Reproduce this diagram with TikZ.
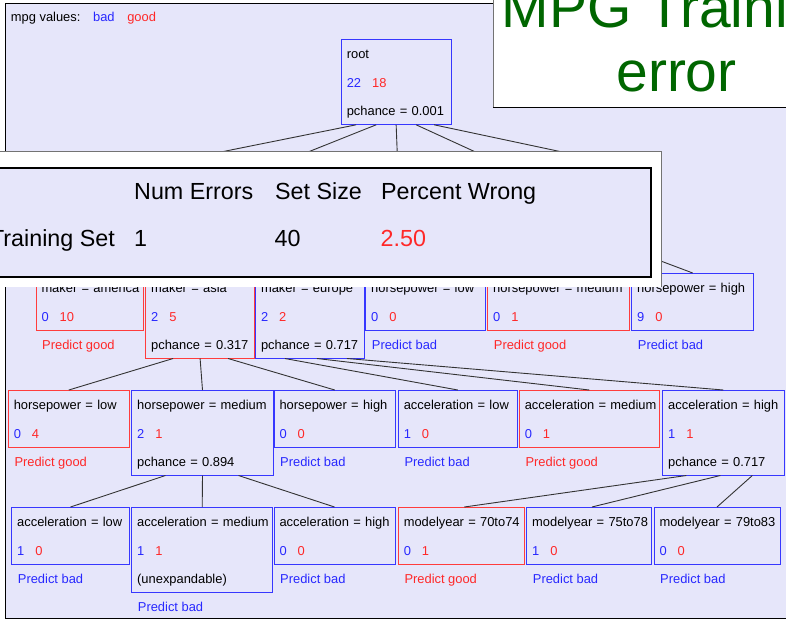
\documentclass[tikz,border=0pt]{standalone}
\usepackage{fontspec}
\setmainfont{Liberation Sans}
\definecolor{lav}{RGB}{230,230,250}
\definecolor{tblue}{RGB}{40,40,255}
\definecolor{tred}{RGB}{255,40,40}
\definecolor{bblue}{RGB}{55,55,255}
\definecolor{bred}{RGB}{255,60,60}
\definecolor{tgreen}{RGB}{0,102,0}
\newcommand{\treefont}{\fontsize{12.9}{28.5}\selectfont}
\newcommand{\tabfont}{\fontsize{23.3}{28}\selectfont}
\newcommand{\ttlfont}{\fontsize{57}{64}\selectfont}
\newcommand{\twol}[2]{\vrule width0pt height19.5pt depth3pt\mbox{#1}\\\vrule width0pt height10pt depth9.5pt\mbox{#2}}
\newcommand{\threel}[3]{\vrule width0pt height19.5pt depth3pt\mbox{#1}\\\mbox{#2}\\\vrule width0pt height10pt depth9pt\mbox{#3}}
\newcommand{\cnts}[2]{\textcolor{tblue}{#1}\hspace{11pt}\textcolor{tred}{#2}}
\tikzset{
  tbox/.style={draw=#1, line width=1pt, anchor=north west, inner xsep=5.5pt, inner ysep=0pt, outer sep=0pt, align=left, font=\treefont},
  conn/.style={draw=black!80, line width=0.9pt},
  pred/.style={anchor=base west, font=\treefont, text=#1, inner sep=0pt},
  tabtxt/.style={anchor=base west, font=\tabfont, inner sep=0pt},
}
\begin{document}
\begin{tikzpicture}[x=1pt,y=-1pt]
\useasboundingbox (0,0) rectangle (786,625);
\clip (0,0) rectangle (786,625);
% panel
\filldraw[fill=lav, draw=black, line width=1pt] (5,3) rectangle (800,618);
\node[anchor=base west, font=\treefont, inner sep=0pt] (legend) at (10.7,21) {mpg values:\hspace{12.7pt}\textcolor{tblue}{bad}\hspace{12.6pt}\textcolor{tred}{good}};
% hidden waypoints (behind the table)
\coordinate (h1) at (181,160);
\coordinate (h2) at (288,160);
\coordinate (h3) at (397.5,160);
\coordinate (h4) at (493,160);
\coordinate (h5) at (600,160);
\coordinate (h8) at (605,240);
% root
\node[tbox=bblue, text width=98.7pt] (root) at (341.3,39.3) {\threel{root}{\cnts{22}{18}}{pchance = 0.001}};
% row 2
\node[tbox=bred, text width=96.3pt] (america) at (36,273) {\twol{maker = america}{\cnts{0}{10}}};
\node[tbox=bred, text width=97.8pt] (asia) at (145.7,273) {\threel{maker = asia}{\cnts{2}{5}}{pchance = 0.317}};
\node[tbox=bblue, text width=97.8pt] (europe) at (255.5,273) {\threel{maker = europe}{\cnts{2}{2}}{pchance = 0.717}};
\node[tbox=bblue, text width=109pt] (hplowA) at (365.7,273) {\twol{horsepower = low}{\cnts{0}{0}}};
\node[tbox=bred, text width=130.3pt] (hpmedA) at (487.7,273) {\twol{horsepower = medium}{\cnts{0}{1}}};
\node[tbox=bblue, text width=111pt] (hphighA) at (631.7,273) {\twol{horsepower = high}{\cnts{9}{0}}};
\node[pred=tred] (pAmerica) at ([xshift=6pt,yshift=-18.5pt]america.south west) {Predict good};
\node[pred=tblue] (pHplowA) at ([xshift=6pt,yshift=-18.5pt]hplowA.south west) {Predict bad};
\node[pred=tred] (pHpmedA) at ([xshift=6pt,yshift=-18.5pt]hpmedA.south west) {Predict good};
\node[pred=tblue] (pHphighA) at ([xshift=6pt,yshift=-18.5pt]hphighA.south west) {Predict bad};
% row 3
\node[tbox=bred, text width=110pt] (hplowB) at (8.3,390) {\twol{horsepower = low}{\cnts{0}{4}}};
\node[tbox=bblue, text width=130.6pt] (hpmedB) at (131.7,390) {\threel{horsepower = medium}{\cnts{2}{1}}{pchance = 0.894}};
\node[tbox=bblue, text width=110.5pt] (hphighB) at (274,390) {\twol{horsepower = high}{\cnts{0}{0}}};
\node[tbox=bblue, text width=108pt] (acclowB) at (398.3,390) {\twol{acceleration = low}{\cnts{1}{0}}};
\node[tbox=bred, text width=129pt] (accmedB) at (519.3,390) {\twol{acceleration = medium}{\cnts{0}{1}}};
\node[tbox=bblue, text width=110.3pt] (acchighB) at (662.7,390) {\threel{acceleration = high}{\cnts{1}{1}}{pchance = 0.717}};
\node[pred=tred] (pHplowB) at ([xshift=6pt,yshift=-18.5pt]hplowB.south west) {Predict good};
\node[pred=tblue] (pHphighB) at ([xshift=6pt,yshift=-18.5pt]hphighB.south west) {Predict bad};
\node[pred=tblue] (pAcclowB) at ([xshift=6pt,yshift=-18.5pt]acclowB.south west) {Predict bad};
\node[pred=tred] (pAccmedB) at ([xshift=6pt,yshift=-18.5pt]accmedB.south west) {Predict good};
% row 4
\node[tbox=bblue, text width=106.6pt] (acclowC) at (11.7,507) {\twol{acceleration = low}{\cnts{1}{0}}};
\node[tbox=bblue, text width=130pt] (accmedC) at (131.7,507) {\threel{acceleration = medium}{\cnts{1}{1}}{(unexpandable)}};
\node[tbox=bblue, text width=110pt] (acchighC) at (274,507) {\twol{acceleration = high}{\cnts{0}{0}}};
\node[tbox=bred, text width=115pt] (myA) at (398.3,507) {\twol{modelyear = 70to74}{\cnts{0}{1}}};
\node[tbox=bblue, text width=113.3pt] (myB) at (526.7,507) {\twol{modelyear = 75to78}{\cnts{1}{0}}};
\node[tbox=bblue, text width=115pt] (myC) at (654,507) {\twol{modelyear = 79to83}{\cnts{0}{0}}};
\node[pred=tblue] (pAcclowC) at ([xshift=6pt,yshift=-18.5pt]acclowC.south west) {Predict bad};
\node[pred=tblue] (pAccmedC) at ([xshift=6pt,yshift=-18.5pt]accmedC.south west) {Predict bad};
\node[pred=tblue] (pAcchighC) at ([xshift=6pt,yshift=-18.5pt]acchighC.south west) {Predict bad};
\node[pred=tred] (pMyA) at ([xshift=6pt,yshift=-18.5pt]myA.south west) {Predict good};
\node[pred=tblue] (pMyB) at ([xshift=6pt,yshift=-18.5pt]myB.south west) {Predict bad};
\node[pred=tblue] (pMyC) at ([xshift=6pt,yshift=-18.5pt]myC.south west) {Predict bad};
% connectors
\draw[conn] ([xshift=-40pt]root.south) -- (h1);
\draw[conn] ([xshift=-20pt]root.south) -- (h2);
\draw[conn] ([xshift=0pt]root.south) -- (h3);
\draw[conn] ([xshift=20pt]root.south) -- (h4);
\draw[conn] ([xshift=38pt]root.south) -- (h5);
\draw[conn] (h8) -- (hphighA.north);
\draw[conn] ([xshift=-27pt]asia.south) -- (hplowB.north);
\draw[conn] ([xshift=0pt]asia.south) -- (hpmedB.north);
\draw[conn] ([xshift=28pt]asia.south) -- (hphighB.north);
\draw[conn] ([xshift=-25pt]europe.south) -- (acclowB.north);
\draw[conn] ([xshift=7pt]europe.south) -- (accmedB.north);
\draw[conn] ([xshift=37pt]europe.south) -- (acchighB.north);
\draw[conn] ([xshift=-37pt]hpmedB.south) -- (acclowC.north);
\draw[conn] ([xshift=0pt]hpmedB.south) -- (accmedC.north);
\draw[conn] ([xshift=36pt]hpmedB.south) -- (acchighC.north);
\draw[conn] ([xshift=-37pt]acchighB.south) -- ([xshift=3pt]myA.north);
\draw[conn] ([xshift=-3pt]acchighB.south) -- ([xshift=3pt]myB.north);
\draw[conn] ([xshift=29pt]acchighB.south) -- (myC.north);
% error table overlay
\fill[white] (-5,151) rectangle (661,287);
\draw[black!55, line width=1pt] (-5,151) -- (661,151) -- (661,287);
\filldraw[fill=lav, draw=black, line width=1.3pt] (-5,168) rectangle (651,277);
\node[tabtxt] (thA) at (134,199) {Num Errors};
\node[tabtxt] (thB) at (275,199) {Set Size};
\node[tabtxt] (thC) at (381,199) {Percent Wrong};
\node[anchor=base east, font=\tabfont, inner sep=0pt] (tdL) at (115,246.7) {Training Set};
\node[tabtxt] (tdA) at (134,246.7) {1};
\node[tabtxt] (tdB) at (274.5,246.7) {40};
\node[tabtxt, text=tred] (tdC) at (380.5,246.7) {2.50};
% title box
\fill[white] (493,-5) rectangle (790,107);
\draw[black!55, line width=1pt] (493,-5) -- (493,107);
\draw[black, line width=1pt] (493,107) -- (790,107);
\node[anchor=base, font=\ttlfont, text=tgreen, inner sep=0pt] (ttlA) at (676.5,27) {MPG Training};
\node[anchor=base, font=\ttlfont, text=tgreen, inner sep=0pt] (ttlB) at (676.5,91) {error};
\end{tikzpicture}
\end{document}
